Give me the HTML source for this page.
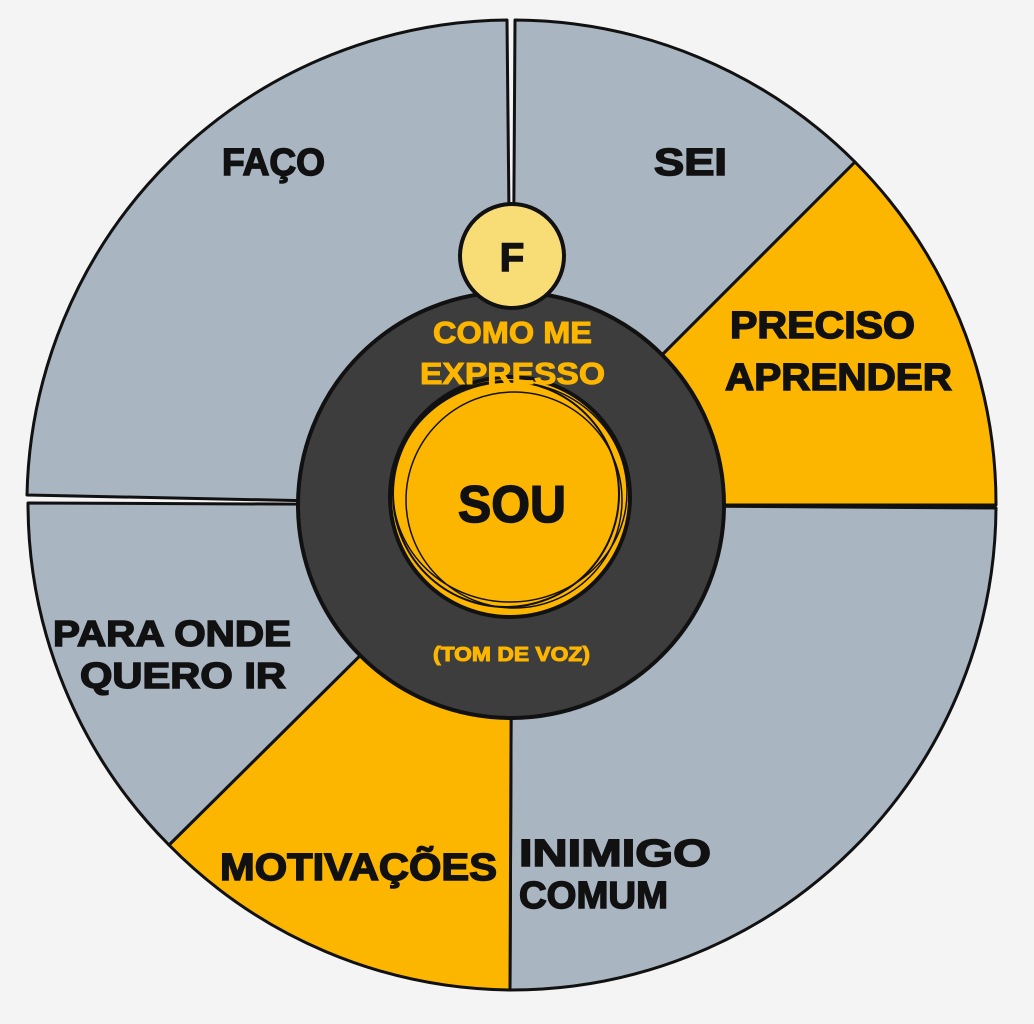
<!DOCTYPE html>
<html><head><meta charset="utf-8"><style>
html,body{margin:0;padding:0;background:#f4f4f4;}
svg{display:block}
text{font-family:"Liberation Sans","DejaVu Sans",sans-serif;font-weight:bold;}
</style></head><body>
<svg width="1034" height="1024" viewBox="0 0 1034 1024" xmlns="http://www.w3.org/2000/svg">
<rect width="1034" height="1024" fill="#f4f4f4"/>
<g stroke="#111" stroke-width="3" stroke-linejoin="round">
<path d="M512,505 L27,495 A485,485 0 0 1 507,20 Z" fill="#a9b5c1"/>
<path d="M512,505 L515,20 A485,485 0 0 1 855,162 Z" fill="#a9b5c1"/>
<path d="M512,505 L855,162 A485,485 0 0 1 996,505 Z" fill="#fdb600"/>
<path d="M512,505 L996,508 A485,485 0 0 1 510,990 Z" fill="#a9b5c1"/>
<path d="M512,505 L510,990 A485,485 0 0 1 169,845 Z" fill="#fdb600"/>
<path d="M512,505 L169,845 A485,485 0 0 1 28,503 Z" fill="#a9b5c1"/>
</g>
<circle cx="511" cy="505" r="213" fill="#3d3d3d" stroke="#111" stroke-width="4"/>
<circle cx="510" cy="497" r="120" fill="#fdb600" stroke="#111" stroke-width="4"/>
<circle cx="506" cy="494" r="113" fill="none" stroke="#111" stroke-width="2"/>
<circle cx="514" cy="500" r="108" fill="none" stroke="#111" stroke-width="1.5"/>
<ellipse cx="510" cy="492" rx="117" ry="110" fill="none" stroke="#111" stroke-width="1.5"/>
<circle cx="512" cy="256" r="52" fill="#f8dc75" stroke="#111" stroke-width="4"/>
<g fill="#111" stroke="#111" stroke-width="1.5">
<text x="512" y="271" font-size="40" text-anchor="middle">F</text>
<text x="222" y="175" font-size="38" textLength="103" lengthAdjust="spacingAndGlyphs">FAÇO</text>
<text x="654" y="175" font-size="38" textLength="73" lengthAdjust="spacingAndGlyphs">SEI</text>
<text x="730" y="338" font-size="38" textLength="185" lengthAdjust="spacingAndGlyphs">PRECISO</text>
<text x="725" y="390" font-size="38" textLength="227" lengthAdjust="spacingAndGlyphs">APRENDER</text>
<text x="458" y="522" font-size="52" textLength="108" lengthAdjust="spacingAndGlyphs">SOU</text>
<text x="53" y="646" font-size="36" textLength="238" lengthAdjust="spacingAndGlyphs">PARA ONDE</text>
<text x="80" y="688" font-size="36" textLength="206" lengthAdjust="spacingAndGlyphs">QUERO IR</text>
<text x="220" y="880" font-size="38" textLength="277" lengthAdjust="spacingAndGlyphs">MOTIVAÇÕES</text>
<text x="519" y="866" font-size="38" textLength="192" lengthAdjust="spacingAndGlyphs">INIMIGO</text>
<text x="519" y="908" font-size="38" textLength="149" lengthAdjust="spacingAndGlyphs">COMUM</text>
</g>
<g fill="#fdb600" stroke="#fdb600" stroke-width="1">
<text x="433" y="343" font-size="31" textLength="159" lengthAdjust="spacingAndGlyphs">COMO ME</text>
<text x="420" y="384" font-size="31" textLength="185" lengthAdjust="spacingAndGlyphs">EXPRESSO</text>
<text x="433" y="661" font-size="20" textLength="157" lengthAdjust="spacingAndGlyphs">(TOM DE VOZ)</text>
</g>
</svg>
</body></html>
